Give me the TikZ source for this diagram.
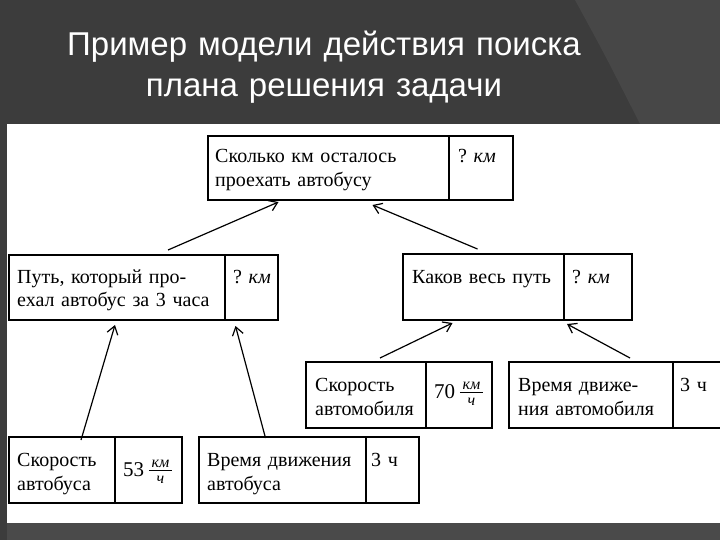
\documentclass[tikz,border=0pt]{standalone}
\usepackage{fontspec}
\usepackage{amsmath}
\setmainfont{Liberation Serif}
\newfontfamily\titlefont{Liberation Sans}
\definecolor{slideDark}{HTML}{3C3C3C}
\definecolor{slideLight}{HTML}{474747}
\definecolor{slideBand}{HTML}{4A4A4A}
\usetikzlibrary{arrows.meta, positioning}

\newcommand{\unitfrac}[2]{$\,\tfrac{\mbox{\fontsize{16}{16}\selectfont\itshape\,#1\,}}{\mbox{\fontsize{16}{16}\selectfont\itshape #2}}$}

\tikzset{
  cell/.style={draw, line width=1.4pt, inner sep=0pt, outer sep=0pt, anchor=north west},
  txt/.style={font=\fontsize{20}{24}\selectfont, inner sep=0pt, anchor=base west, align=left, text width=300pt},
  num/.style={font=\fontsize{21}{24}\selectfont, inner sep=0pt, anchor=base west},
  link/.style={-{Straight Barb[length=8pt,width=11pt]}, line width=1.2pt}
}

\begin{document}
\begin{tikzpicture}[x=1pt, y=-1pt]
      % Slide background
      \fill[slideDark] (0,0) rectangle (720,540);
      \fill[slideLight] (575,0) .. controls (605,55) .. (640,124) -- (720,124) -- (720,0) -- cycle;
      \fill[slideBand] (7,523) rectangle (720,540);
      \fill[white] (7,124) rectangle (720,523);
      \useasboundingbox (0,0) rectangle (720,540);
      % Title
      \node[font=\titlefont\fontsize{33}{41}\selectfont, text=white, align=center,
         text width=640pt, inner sep=0pt, anchor=base] (title) at (324,56)
         {Пример модели действия поиска\\плана решения задачи};
      % Goal
      \node[cell, minimum width=241, minimum height=64] (aq) at (208,136) {};
      \node[cell, minimum width=64, minimum height=64, right=0pt of aq] (av) {};
      \node[txt] (aqt) at ([shift={(7pt,-27pt)}]aq.north west) {Сколько км осталось\\проехать автобусу};
      \node[txt] (avt) at ([shift={(9pt,-27pt)}]av.north west) {?\ \textit{км}};
      % Bus distance
      \node[cell, minimum width=216, minimum height=65] (bq) at (9,255) {};
      \node[cell, minimum width=53, minimum height=65, right=0pt of bq] (bv) {};
      \node[txt] (bqt) at ([shift={(8pt,-28pt)}]bq.north west) {Путь, который про-\\ехал автобус за 3 часа};
      \node[txt] (bvt) at ([shift={(8pt,-28pt)}]bv.north west) {?\ \textit{км}};
      % Whole distance
      \node[cell, minimum width=161, minimum height=66] (cq) at (403,254) {};
      \node[cell, minimum width=68, minimum height=66, right=0pt of cq] (cv) {};
      \node[txt] (cqt) at ([shift={(9pt,-29pt)}]cq.north west) {Каков весь путь};
      \node[txt] (cvt) at ([shift={(8pt,-29pt)}]cv.north west) {?\ \textit{км}};
      % Car speed
      \node[cell, minimum width=120, minimum height=66] (dq) at (306,362) {};
      \node[cell, minimum width=66, minimum height=66, right=0pt of dq] (dv) {};
      \node[txt] (dqt) at ([shift={(9pt,-29pt)}]dq.north west) {Скорость\\автомобиля};
      \node[num] (dvt) at ([shift={(8pt,-36pt)}]dv.north west) {70\unitfrac{км}{ч}};
      % Car time
      \node[cell, minimum width=164, minimum height=66] (eq) at (509,362) {};
      \node[cell, minimum width=70, minimum height=66, right=0pt of eq] (ev) {};
      \node[txt] (eqt) at ([shift={(9pt,-29pt)}]eq.north west) {Время движе-\\ния автомобиля};
      \node[txt] (evt) at ([shift={(7pt,-29pt)}]ev.north west) {3 ч};
      % Bus speed
      \node[cell, minimum width=106, minimum height=66] (fq) at (9,437) {};
      \node[cell, minimum width=67, minimum height=66, right=0pt of fq] (fv) {};
      \node[txt] (fqt) at ([shift={(8pt,-29pt)}]fq.north west) {Скорость\\автобуса};
      \node[num] (fvt) at ([shift={(8pt,-39pt)}]fv.north west) {53\unitfrac{км}{ч}};
      % Bus time
      \node[cell, minimum width=167, minimum height=66] (gq) at (199,437) {};
      \node[cell, minimum width=53, minimum height=66, right=0pt of gq] (gv) {};
      \node[txt] (gqt) at ([shift={(8pt,-29pt)}]gq.north west) {Время движения\\автобуса};
      \node[txt] (gvt) at ([shift={(5pt,-29pt)}]gv.north west) {3 ч};
      % Arrows
      \draw[link] ([shift={(51pt,5pt)}]bq.north) -- ([shift={(-50pt,-2pt)}]aq.south);
      \draw[link] ([shift={(-6pt,5pt)}]cq.north) -- ([shift={(44pt,-5pt)}]aq.south);
      \draw[link] ([shift={(19pt,-3pt)}]fq.north) -- ([shift={(-2pt,-5pt)}]bq.south);
      \draw[link] ([shift={(-17pt,-1pt)}]gq.north) -- ([shift={(-16pt,-6pt)}]bv.south);
      \draw[link] ([shift={(14pt,4pt)}]dq.north) -- ([shift={(-31pt,-3pt)}]cq.south);
      \draw[link] ([shift={(39pt,4pt)}]eq.north) -- ([shift={(-31pt,-4pt)}]cv.south);
   \end{tikzpicture}
\end{document}
